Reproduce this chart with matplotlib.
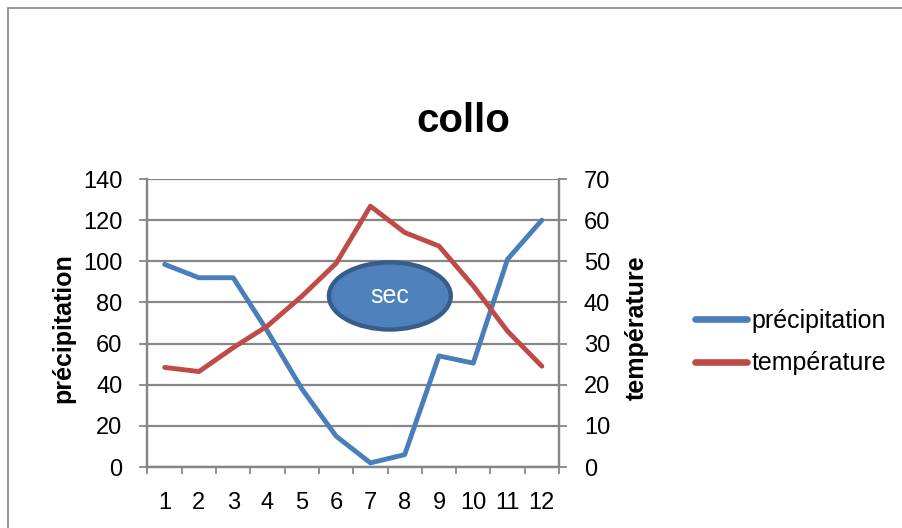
import matplotlib.pyplot as plt
from matplotlib.patches import Ellipse, Rectangle
from matplotlib.lines import Line2D

plt.rcParams['font.family'] = ['Liberation Sans', 'DejaVu Sans']

mois = [1, 2, 3, 4, 5, 6, 7, 8, 9, 10, 11, 12]
precipitation = [98.5, 92, 92, 66, 38, 15, 2, 6, 54, 50.5, 101, 120]
temperature = [24.2, 23.2, 29, 34.3, 41.5, 49.5, 63.4, 57, 53.7, 44, 33, 24.5]

BLEU = '#4A7EBB'
ROUGE = '#BE4B48'
GRIS = '#868686'

fig = plt.figure(figsize=(9.03, 5.28), dpi=100)
ax = fig.add_axes([147.5 / 903, 1 - 467 / 528, 411.5 / 903, 288 / 528])
ax2 = ax.twinx()

ax.plot(mois, precipitation, color=BLEU, lw=3.5, solid_capstyle='round',
        solid_joinstyle='round', zorder=3)
ax2.plot(mois, temperature, color=ROUGE, lw=3.5, solid_capstyle='round',
         solid_joinstyle='round', zorder=3)

# axe gauche : précipitation
ax.set_xlim(0.5, 12.5)
ax.set_ylim(0, 140)
ax.set_yticks(range(0, 141, 20))
ax.yaxis.grid(True, color=GRIS, lw=1.6)
ax.set_axisbelow(True)
ax.tick_params(axis='y', direction='out', length=6, width=1.3, color=GRIS,
               pad=12, labelsize=17)

# axe des mois : graduations entre les catégories
ax.set_xticks(mois)
ax.set_xticks([m + 0.5 for m in [0] + mois], minor=True)
ax.tick_params(axis='x', which='major', length=0, pad=18, labelsize=17)
ax.tick_params(axis='x', which='minor', direction='out', length=5.3,
               width=1.3, color=GRIS)

# axe droit : température
ax2.set_ylim(0, 70)
ax2.set_yticks(range(0, 71, 10))
ax2.tick_params(axis='y', direction='out', length=6, width=1.3, color=GRIS,
                pad=12, labelsize=17)

for a in (ax, ax2):
    a.spines['top'].set_visible(False)
    for s in ('left', 'right', 'bottom'):
        a.spines[s].set_color(GRIS)
        a.spines[s].set_linewidth(1.6)

# bulle "sec"
bulle = Ellipse((0.589, 0.594), 0.296, 0.233, transform=ax.transAxes,
                facecolor='#4F81BD', edgecolor='#385D8A', lw=3.2, zorder=5)
ax2.add_patch(bulle)
ax2.text(0.589, 0.594, 'sec', transform=ax.transAxes, color='white',
         fontsize=18, ha='center', va='center', zorder=6)

fig.text(463 / 903, 1 - 132 / 528, 'collo', fontsize=29, fontweight='bold',
         ha='center', va='baseline')
fig.text(63 / 903, 1 - 328 / 528, 'précipitation', rotation=90,
         fontsize=18, fontweight='bold', ha='center', va='center')
fig.text(637 / 903, 1 - 328 / 528, 'température', rotation=90,
         fontsize=18, fontweight='bold', ha='center', va='center')

poignees = [Line2D([], [], color=BLEU, lw=4.8, solid_capstyle='round'),
            Line2D([], [], color=ROUGE, lw=4.8, solid_capstyle='round')]
fig.legend(poignees, ['précipitation', 'température'], loc='center left',
           bbox_to_anchor=(695 / 903, 1 - 342 / 528), frameon=False,
           fontsize=18, handlelength=2.1, handletextpad=0.15,
           labelspacing=0.75, borderpad=0, borderaxespad=0)

# cadre du graphique
fig.patches.append(Rectangle((8 / 903, -0.1), 2, 1.1 - 8.5 / 528,
                             transform=fig.transFigure, fill=False,
                             edgecolor='#8C8C8C', lw=1.3))

fig.savefig('out.png', dpi=100)
